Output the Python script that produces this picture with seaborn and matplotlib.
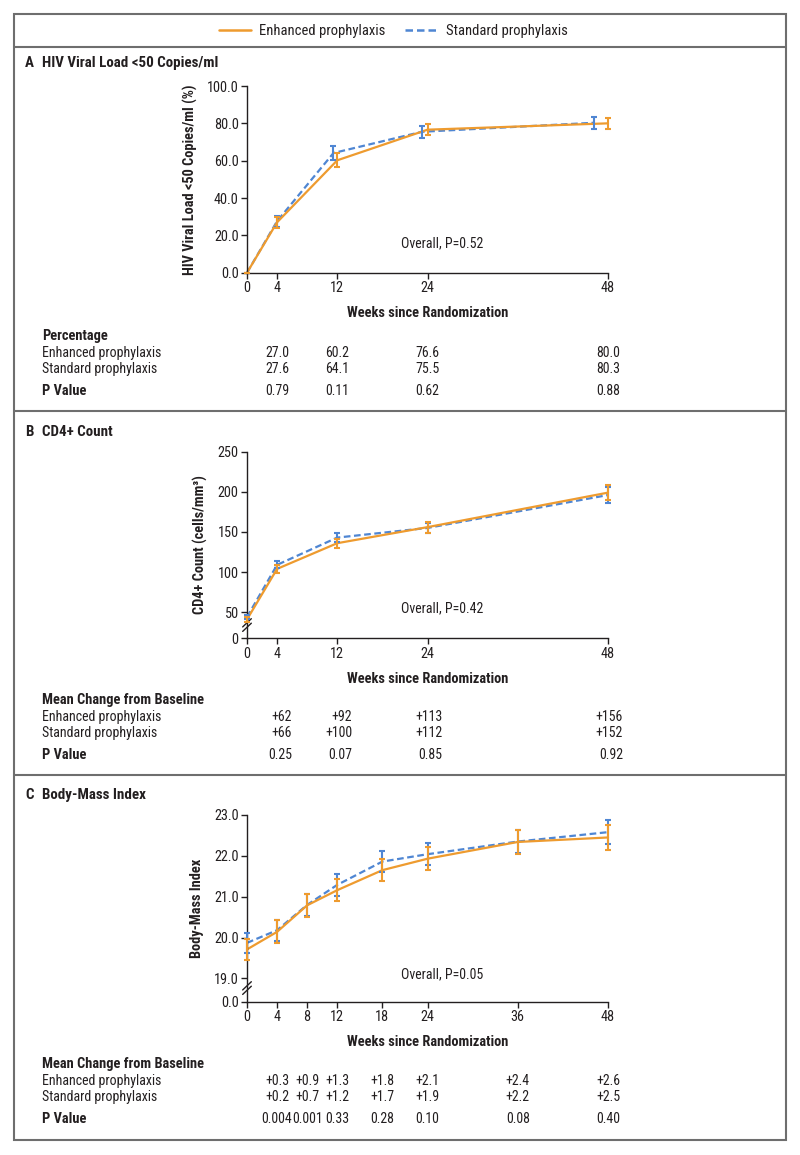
import numpy as np
import pandas as pd
import seaborn as sns
import matplotlib.pyplot as plt
from matplotlib import font_manager
from matplotlib.lines import Line2D
from matplotlib.patches import Rectangle
from matplotlib.transforms import blended_transform_factory

# ---- data ----
groups = ['Enhanced prophylaxis', 'Standard prophylaxis']

# A: HIV viral load <50 copies/ml (%)
a_weeks_enh = [0, 4, 12, 24, 48]
a_weeks_std = [0, 4, 11.5, 23.3, 46.1]
a_enh = [0, 27.0, 60.2, 76.6, 80.0]
a_std = [0, 27.6, 64.1, 75.5, 80.3]
a_err_enh = [0, 3.0, 3.8, 3.1, 3.0]
a_err_std = [0, 3.0, 3.6, 3.1, 3.3]
a_ticks = [0, 4, 12, 24, 48]
a_tab_weeks = [4, 12, 24, 48]
a_tab_enh = ['27.0', '60.2', '76.6', '80.0']
a_tab_std = ['27.6', '64.1', '75.5', '80.3']
a_tab_p = ['0.79', '0.11', '0.62', '0.88']

# B: CD4+ count
b_weeks = [0, 4, 12, 24, 48]
b_enh = [41, 104, 136, 156, 199]
b_std = [44, 109, 143, 155, 196]
b_err_enh = [3, 4.8, 5.8, 6.9, 9.4]
b_err_std = [3, 4.5, 6.0, 6.5, 9.8]
b_ticks = [0, 4, 12, 24, 48]
b_tab_weeks = [4, 12, 24, 48]
b_tab_enh = ['+62', '+92', '+113', '+156']
b_tab_std = ['+66', '+100', '+112', '+152']
b_tab_p = ['0.25', '0.07', '0.85', '0.92']

# C: body-mass index
c_weeks = [0, 4, 8, 12, 18, 24, 36, 48]
c_enh = [19.71, 20.14, 20.79, 21.16, 21.65, 21.93, 22.34, 22.45]
c_std = [19.87, 20.18, 20.80, 21.29, 21.86, 22.04, 22.35, 22.58]
c_err_enh = [0.25, 0.28, 0.28, 0.27, 0.27, 0.28, 0.29, 0.31]
c_err_std = [0.24, 0.26, 0.27, 0.27, 0.26, 0.27, 0.29, 0.30]
c_ticks = [0, 4, 8, 12, 18, 24, 36, 48]
c_tab_weeks = [4, 8, 12, 18, 24, 36, 48]
c_tab_enh = ['+0.3', '+0.9', '+1.3', '+1.8', '+2.1', '+2.4', '+2.6']
c_tab_std = ['+0.2', '+0.7', '+1.2', '+1.7', '+1.9', '+2.2', '+2.5']
c_tab_p = ['0.004', '0.001', '0.33', '0.28', '0.10', '0.08', '0.40']

ORANGE = '#EE9B2F'
BLUE = '#4F86D3'
INK = '#231F20'
FRAME = '#6E6E6E'

sns.set_theme(style='ticks')

# the original uses a narrow sans; take a condensed face if one is installed
installed = {f.name for f in font_manager.fontManager.ttflist}
if 'Liberation Sans Narrow' in installed:
    FAMILY, FS = 'Liberation Sans Narrow', 10
elif 'Roboto Condensed' in installed:
    FAMILY, FS = 'Roboto Condensed', 10
else:
    FAMILY, FS = 'Liberation Sans', 8.8
plt.rcParams['font.family'] = [FAMILY, 'DejaVu Sans']
plt.rcParams['font.size'] = FS
plt.rcParams['text.color'] = INK
plt.rcParams['axes.labelcolor'] = INK
plt.rcParams['xtick.color'] = INK
plt.rcParams['ytick.color'] = INK

FS_BOLD = FS + 0.4
FS_TITLE = FS + 0.8

W, H = 800, 1155
fig = plt.figure(figsize=(W / 100, H / 100), dpi=100)


def fx(px):
    return px / W


def fy(px):
    return 1 - px / H


def make_axes(top_px, bottom_px):
    return fig.add_axes([fx(247), fy(bottom_px), fx(608) - fx(247), (bottom_px - top_px) / H])


def draw_series(ax, w_enh, enh, e_enh, w_std, std, e_std):
    df = pd.concat([
        pd.DataFrame({'week': w_std, 'value': std, 'group': groups[1]}),
        pd.DataFrame({'week': w_enh, 'value': enh, 'group': groups[0]}),
    ])
    sns.lineplot(data=df, x='week', y='value', hue='group', style='group',
                 hue_order=[groups[1], groups[0]], style_order=[groups[1], groups[0]],
                 palette={groups[0]: ORANGE, groups[1]: BLUE},
                 dashes={groups[0]: '', groups[1]: (3, 1.6)},
                 linewidth=1.6, legend=False, ax=ax, clip_on=False, sort=False)
    ax.errorbar(w_std, std, yerr=e_std, fmt='none', ecolor=BLUE, elinewidth=1.5,
                capsize=2.5, capthick=1.5, clip_on=False, zorder=3)
    ax.errorbar(w_enh, enh, yerr=e_enh, fmt='none', ecolor=ORANGE, elinewidth=1.5,
                capsize=2.5, capthick=1.5, clip_on=False, zorder=4)


def style_axes(ax, xticks, ylabel, label_x):
    sns.despine(ax=ax)
    ax.set_xlim(0, 48)
    ax.set_xticks(xticks)
    ax.set_xticklabels([str(t) for t in xticks])
    ax.tick_params(axis='both', length=4, width=1, labelsize=FS + 0.3, pad=2)
    for s in ['left', 'bottom']:
        ax.spines[s].set_color(INK)
        ax.spines[s].set_linewidth(1)
    ax.set_xlabel('Weeks since Randomization', fontweight='bold', fontsize=FS_BOLD, labelpad=8)
    ax.set_ylabel(ylabel, fontweight='bold', fontsize=FS_BOLD)
    ax.yaxis.set_label_coords(label_x, 0.5)
    ax.grid(False)
    ax.set_facecolor('none')


def axis_break(ax, yfrac):
    dx, dy = 0.012, 0.022
    for off in (-0.012, 0.012):
        ax.plot([-dx, dx], [yfrac + off - dy, yfrac + off + dy], transform=ax.transAxes,
                color=INK, lw=1, clip_on=False)


def table(ax, header, weeks, enh, std, pvals, y_head, align='center', shift=0.0):
    tr = blended_transform_factory(ax.transData, fig.transFigure)
    fig.text(fx(42), fy(y_head), header, fontweight='bold', fontsize=FS_BOLD, va='center')
    fig.text(fx(42), fy(y_head + 17), groups[0], va='center')
    fig.text(fx(42), fy(y_head + 33), groups[1], va='center')
    fig.text(fx(42), fy(y_head + 55), 'P Value', fontweight='bold', fontsize=FS_BOLD, va='center')
    for w, e, s, p in zip(weeks, enh, std, pvals):
        ax.text(w + shift, fy(y_head + 17), e, transform=tr, ha=align, va='center')
        ax.text(w + shift, fy(y_head + 33), s, transform=tr, ha=align, va='center')
        ax.text(w + shift, fy(y_head + 55), p, transform=tr, ha=align, va='center')


# ---- Panel A ----
axA = make_axes(86, 272.7)
draw_series(axA, a_weeks_enh, a_enh, a_err_enh, a_weeks_std, a_std, a_err_std)
axA.set_ylim(0, 100)
axA.set_yticks([0, 20, 40, 60, 80, 100])
axA.set_yticklabels(['0.0', '20.0', '40.0', '60.0', '80.0', '100.0'])
style_axes(axA, a_ticks, 'HIV Viral Load <50 Copies/ml (%)', -0.137)
axA.text(26, 16, 'Overall, P=0.52', ha='center', va='center')
fig.text(fx(25), fy(63), 'A', fontweight='bold', fontsize=FS_TITLE, va='center')
fig.text(fx(42), fy(63), 'HIV Viral Load <50 Copies/ml', fontweight='bold', fontsize=FS_TITLE, va='center')
table(axA, 'Percentage', a_tab_weeks, a_tab_enh, a_tab_std, a_tab_p, 336)

# ---- Panel B ----
axB = make_axes(451.7, 638.3)
draw_series(axB, b_weeks, b_enh, b_err_enh, b_weeks, b_std, b_err_std)
axB.set_ylim(17.5, 250)
axB.set_yticks([17.5, 50, 100, 150, 200, 250])
axB.set_yticklabels(['0', '50', '100', '150', '200', '250'])
style_axes(axB, b_ticks, 'CD4+ Count (cells/mm\u00b3)', -0.108)
axis_break(axB, 0.071)
axB.text(26, 55, 'Overall, P=0.42', ha='center', va='center')
fig.text(fx(25), fy(432), 'B', fontweight='bold', fontsize=FS_TITLE, va='center')
fig.text(fx(42), fy(432), 'CD4+ Count', fontweight='bold', fontsize=FS_TITLE, va='center')
table(axB, 'Mean Change from Baseline', b_tab_weeks, b_tab_enh, b_tab_std, b_tab_p, 700,
      align='right', shift=2.0)

# ---- Panel C ----
axC = make_axes(815, 1001.7)
draw_series(axC, c_weeks, c_enh, c_err_enh, c_weeks, c_std, c_err_std)
axC.set_ylim(18.43, 23)
axC.set_yticks([18.43, 19, 20, 21, 22, 23])
axC.set_yticklabels(['0.0', '19.0', '20.0', '21.0', '22.0', '23.0'])
style_axes(axC, c_ticks, 'Body-Mass Index', -0.119)
axis_break(axC, 0.073)
axC.text(26, 19.1, 'Overall, P=0.05', ha='center', va='center')
fig.text(fx(25), fy(795), 'C', fontweight='bold', fontsize=FS_TITLE, va='center')
fig.text(fx(42), fy(795), 'Body-Mass Index', fontweight='bold', fontsize=FS_TITLE, va='center')
table(axC, 'Mean Change from Baseline', c_tab_weeks, c_tab_enh, c_tab_std, c_tab_p, 1064)

# ---- frame, separators, legend ----
fig.add_artist(Rectangle((fx(14), fy(1140)), fx(786) - fx(14), (1140 - 14) / H,
                         transform=fig.transFigure, fill=False, ec=FRAME, lw=1.5))
for ypx in (47, 411, 775):
    fig.add_artist(Line2D([fx(14), fx(786)], [fy(ypx), fy(ypx)], transform=fig.transFigure,
                          color=FRAME, lw=1.5))

handles = [Line2D([], [], color=ORANGE, lw=1.8),
           Line2D([], [], color=BLUE, lw=1.8, dashes=(3, 1.6))]
fig.legend(handles, groups, loc='center', bbox_to_anchor=(fx(393), fy(31)), ncol=2,
           frameon=False, handlelength=2.2, handletextpad=0.6, columnspacing=1.3,
           fontsize=FS + 0.5)

fig.savefig('out.png', dpi=100)
